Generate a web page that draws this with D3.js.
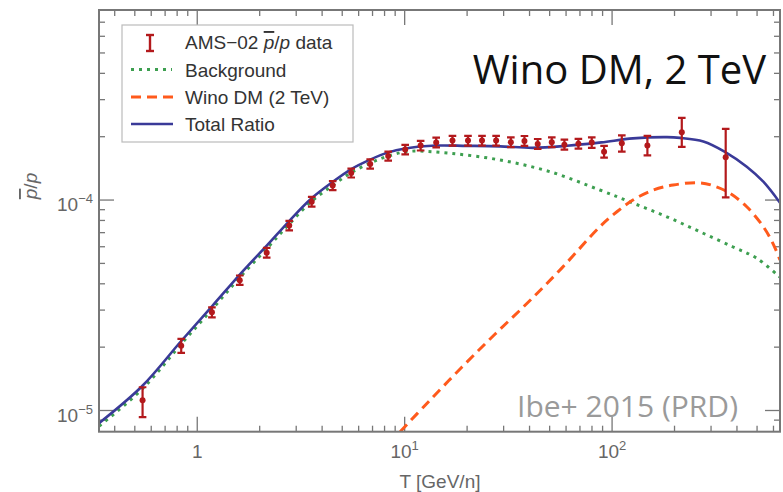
<!DOCTYPE html>
<html><head><meta charset="utf-8">
<script src="https://cdn.jsdelivr.net/npm/d3@7"></script>
<style>html,body{margin:0;padding:0;background:#fff;} svg{display:block;}</style>
</head><body>
<svg id="chart" width="783" height="492"></svg>
<script>
// AMS-02 pbar/p data
const amsT  = [0.545,0.837,1.177,1.603,2.162,2.776,3.563,4.498,5.524,6.82,8.33,10.06,11.94,14.19,17.0,20.2,23.6,27.6,32.5,37.8,43.8,51.2,58.9,68.8,79.8,91.5,111.4,148,216.8,353];
const amsR  = [1.12e-5,2.03e-5,2.93e-5,4.16e-5,5.62e-5,7.56e-5,9.81e-5,1.172e-4,1.345e-4,1.484e-4,1.62e-4,1.74e-4,1.817e-4,1.878e-4,1.916e-4,1.916e-4,1.916e-4,1.916e-4,1.883e-4,1.91e-4,1.848e-4,1.883e-4,1.833e-4,1.854e-4,1.875e-4,1.698e-4,1.86e-4,1.814e-4,2.101e-4,1.597e-4];
const amsLo = [0.93e-5,1.88e-5,2.77e-5,3.95e-5,5.33e-5,7.17e-5,9.30e-5,1.115e-4,1.28e-4,1.41e-4,1.54e-4,1.65e-4,1.72e-4,1.78e-4,1.815e-4,1.815e-4,1.815e-4,1.815e-4,1.785e-4,1.81e-4,1.75e-4,1.785e-4,1.735e-4,1.755e-4,1.77e-4,1.59e-4,1.70e-4,1.63e-4,1.79e-4,1.03e-4];
const amsHi = [1.29e-5,2.19e-5,3.09e-5,4.38e-5,5.92e-5,7.97e-5,1.035e-4,1.23e-4,1.41e-4,1.56e-4,1.70e-4,1.83e-4,1.91e-4,1.98e-4,2.02e-4,2.02e-4,2.02e-4,2.02e-4,1.985e-4,2.015e-4,1.95e-4,1.985e-4,1.935e-4,1.955e-4,1.985e-4,1.81e-4,2.03e-4,2.02e-4,2.46e-4,2.18e-4];

// Background (secondary pbar)
const bgT = [0.337,0.543,0.837,1.181,1.611,2.174,2.776,3.548,4.52,5.53,6.82,8.33,10.6,16.6,28.9,50.3,87.3,126,183.6,265,381,497,645];
const bgR = [8.44e-6,1.265e-5,2.07e-5,3.034e-5,4.31e-5,5.91e-5,7.69e-5,9.84e-5,1.178e-4,1.351e-4,1.499e-4,1.618e-4,1.705e-4,1.667e-4,1.549e-4,1.363e-4,1.116e-4,9.68e-5,8.33e-5,7.07e-5,6.0e-5,5.3e-5,4.3e-5];

// Wino DM (2 TeV)
const winoT = [9.51,13.0,18.9,27.3,39.5,57.2,87.3,105.5,126,158,197,265,318,370,446,536,596,645];
const winoR = [7.93e-6,1.098e-5,1.609e-5,2.309e-5,3.277e-5,4.75e-5,7.47e-5,8.8e-5,1.0e-4,1.116e-4,1.179e-4,1.208e-4,1.157e-4,1.076e-4,9.29e-5,7.47e-5,6.23e-5,5.19e-5];

// Total ratio
const totT = [0.337,0.543,0.837,1.181,1.611,2.174,2.776,3.548,4.52,5.53,6.82,8.33,10.06,14.19,19.9,28.9,41.5,60.6,88.7,126,184,212.6,275.5,350,446,536,645];
const totR = [8.72e-6,1.307e-5,2.139e-5,3.135e-5,4.45e-5,6.11e-5,7.95e-5,1.0165e-4,1.224e-4,1.404e-4,1.557e-4,1.685e-4,1.758e-4,1.815e-4,1.81e-4,1.80e-4,1.77e-4,1.81e-4,1.88e-4,1.963e-4,1.99e-4,1.975e-4,1.9e-4,1.696e-4,1.44e-4,1.222e-4,9.7e-5];

// Axis ticks / labels
const xMajor = [1, 10, 100];
const xMajorLabels = [["1",""],["10","1"],["10","2"]];
const yMajor = [1e-5, 1e-4];
const yMajorLabels = [["10","\u22125"],["10","\u22124"]];

const legendLabels = ["AMS\u221202 ", "Background", "Wino DM (2 TeV)", "Total Ratio"];

const colRed = "#b3191c", colGreen = "#3d9f50", colOrange = "#ff5a1c", colBlue = "#3a3a98";

const L = 99, R = 780, T = 10, B = 431.7;
const x = d3.scaleLog().domain([0.336, 645]).range([L, R]);
const y = d3.scaleLog().domain([7.93e-6, 8.0e-4]).range([B, T]);

const svg = d3.select("#chart");
svg.append("rect").attr("width",783).attr("height",492).attr("fill","#fff");

svg.append("defs").append("clipPath").attr("id","clip")
  .append("rect").attr("x",L).attr("y",T).attr("width",R-L).attr("height",B-T);

const axisCol = "#777";
const tk = svg.append("g").attr("stroke", axisCol).attr("stroke-width", 1.3);
const isMajorX = v => xMajor.some(m => Math.abs(Math.log10(v/m)) < 1e-6);
const isMajorY = v => yMajor.some(m => Math.abs(Math.log10(v/m)) < 1e-6);
x.ticks().forEach(v => {
  const len = isMajorX(v) ? 15 : 6;
  const px = x(v);
  if (px <= L+1 || px >= R-1) return;
  tk.append("line").attr("x1",px).attr("x2",px).attr("y1",B).attr("y2",B-len);
  tk.append("line").attr("x1",px).attr("x2",px).attr("y1",T).attr("y2",T+len);
});
y.ticks().forEach(v => {
  const len = isMajorY(v) ? 15 : 6;
  const py = y(v);
  if (py <= T+1 || py >= B-1) return;
  tk.append("line").attr("x1",L).attr("x2",L+len).attr("y1",py).attr("y2",py);
  tk.append("line").attr("x1",R).attr("x2",R-len).attr("y1",py).attr("y2",py);
});

// curves
const plot = svg.append("g").attr("clip-path","url(#clip)");
const line = d3.line().x(d => x(d[0])).y(d => y(d[1])).curve(d3.curveCatmullRom.alpha(0.5));
const zip = (a,b) => a.map((v,i) => [v, b[i]]);

plot.append("path").attr("d", line(zip(bgT,bgR))).attr("fill","none")
  .attr("stroke",colGreen).attr("stroke-width",3).attr("stroke-dasharray","3,5");
plot.append("path").attr("d", line(zip(winoT,winoR))).attr("fill","none")
  .attr("stroke",colOrange).attr("stroke-width",3).attr("stroke-dasharray","10,6");
plot.append("path").attr("d", line(zip(totT,totR))).attr("fill","none")
  .attr("stroke",colBlue).attr("stroke-width",2.6);

// data
const pts = plot.append("g").attr("stroke",colRed).attr("fill",colRed);
amsT.forEach((t,i) => {
  const px = x(t);
  pts.append("line").attr("x1",px).attr("x2",px).attr("y1",y(amsLo[i])).attr("y2",y(amsHi[i])).attr("stroke-width",2.2);
  pts.append("line").attr("x1",px-3.8).attr("x2",px+3.8).attr("y1",y(amsLo[i])).attr("y2",y(amsLo[i])).attr("stroke-width",2.2);
  pts.append("line").attr("x1",px-3.8).attr("x2",px+3.8).attr("y1",y(amsHi[i])).attr("y2",y(amsHi[i])).attr("stroke-width",2.2);
  pts.append("circle").attr("cx",px).attr("cy",y(amsR[i])).attr("r",3).attr("stroke","none");
});

// frame
svg.append("rect").attr("x",L).attr("y",T).attr("width",R-L).attr("height",B-T)
  .attr("fill","none").attr("stroke",axisCol).attr("stroke-width",2);

// tick labels
const lab = "Liberation Sans, Arial, Helvetica, sans-serif";
const labCol = "#666";
xMajor.forEach((v,i) => {
  const t = svg.append("text").attr("x", x(v)).attr("y", 458).attr("text-anchor","middle")
    .attr("font-family",lab).attr("font-size",19).attr("fill",labCol);
  t.append("tspan").text(xMajorLabels[i][0]);
  if (xMajorLabels[i][1]) t.append("tspan").attr("dy",-8).attr("font-size",13).text(xMajorLabels[i][1]);
});
yMajor.forEach((v,i) => {
  const t = svg.append("text").attr("x", 93).attr("y", y(v)+11).attr("text-anchor","end")
    .attr("font-family",lab).attr("font-size",19).attr("fill",labCol);
  t.append("tspan").text(yMajorLabels[i][0]);
  t.append("tspan").attr("dy",-8).attr("font-size",13).text(yMajorLabels[i][1]);
});

// axis titles
svg.append("text").attr("x",440).attr("y",488).attr("text-anchor","middle")
  .attr("font-family",lab).attr("font-size",19).attr("fill",labCol).text("T [GeV/n]");
const yt = svg.append("text").attr("transform","translate(37,186) rotate(-90)").attr("text-anchor","middle")
  .attr("font-family",lab).attr("font-size",19).attr("fill",labCol);
yt.append("tspan").attr("font-style","italic").attr("text-decoration","overline").text("p");
yt.append("tspan").text("/");
yt.append("tspan").attr("font-style","italic").text("p");

// legend
const lg = svg.append("g");
lg.append("rect").attr("x",122).attr("y",25).attr("width",231).attr("height",117)
  .attr("fill","#fff").attr("stroke","#bbb").attr("stroke-width",1.2);
const rows = [42, 69.5, 97, 124];
const txtCol = "#333";
lg.append("line").attr("x1",150).attr("x2",150).attr("y1",35).attr("y2",51).attr("stroke",colRed).attr("stroke-width",2.4);
lg.append("line").attr("x1",146).attr("x2",154).attr("y1",35).attr("y2",35).attr("stroke",colRed).attr("stroke-width",2.4);
lg.append("line").attr("x1",146).attr("x2",154).attr("y1",51).attr("y2",51).attr("stroke",colRed).attr("stroke-width",2.4);
lg.append("line").attr("x1",131).attr("x2",172).attr("y1",rows[1]).attr("y2",rows[1]).attr("stroke",colGreen).attr("stroke-width",3).attr("stroke-dasharray","3,5");
lg.append("line").attr("x1",131).attr("x2",173).attr("y1",rows[2]).attr("y2",rows[2]).attr("stroke",colOrange).attr("stroke-width",3).attr("stroke-dasharray","10,6");
lg.append("line").attr("x1",131).attr("x2",173).attr("y1",rows[3]).attr("y2",rows[3]).attr("stroke",colBlue).attr("stroke-width",2.6);
legendLabels.forEach((s,i) => {
  const t = lg.append("text").attr("x",185).attr("y",rows[i]+7).attr("font-family",lab)
    .attr("font-size",19).attr("fill",txtCol);
  t.append("tspan").text(s);
  if (i === 0) {
    t.append("tspan").attr("font-style","italic").attr("text-decoration","overline").text("p");
    t.append("tspan").text("/");
    t.append("tspan").attr("font-style","italic").text("p");
    t.append("tspan").text(" data");
  }
});

// annotations
svg.append("text").attr("x",766).attr("y",84).attr("text-anchor","end")
  .attr("font-family","Open Sans, Noto Sans, sans-serif").attr("font-size",40).attr("fill","#111")
  .text("Wino DM, 2 TeV");
svg.append("text").attr("x",738).attr("y",417).attr("text-anchor","end")
  .attr("font-family","Open Sans, Noto Sans, sans-serif").attr("font-size",30).attr("fill","#9a9a9a")
  .text("Ibe+ 2015 (PRD)");
</script>
</body></html>
